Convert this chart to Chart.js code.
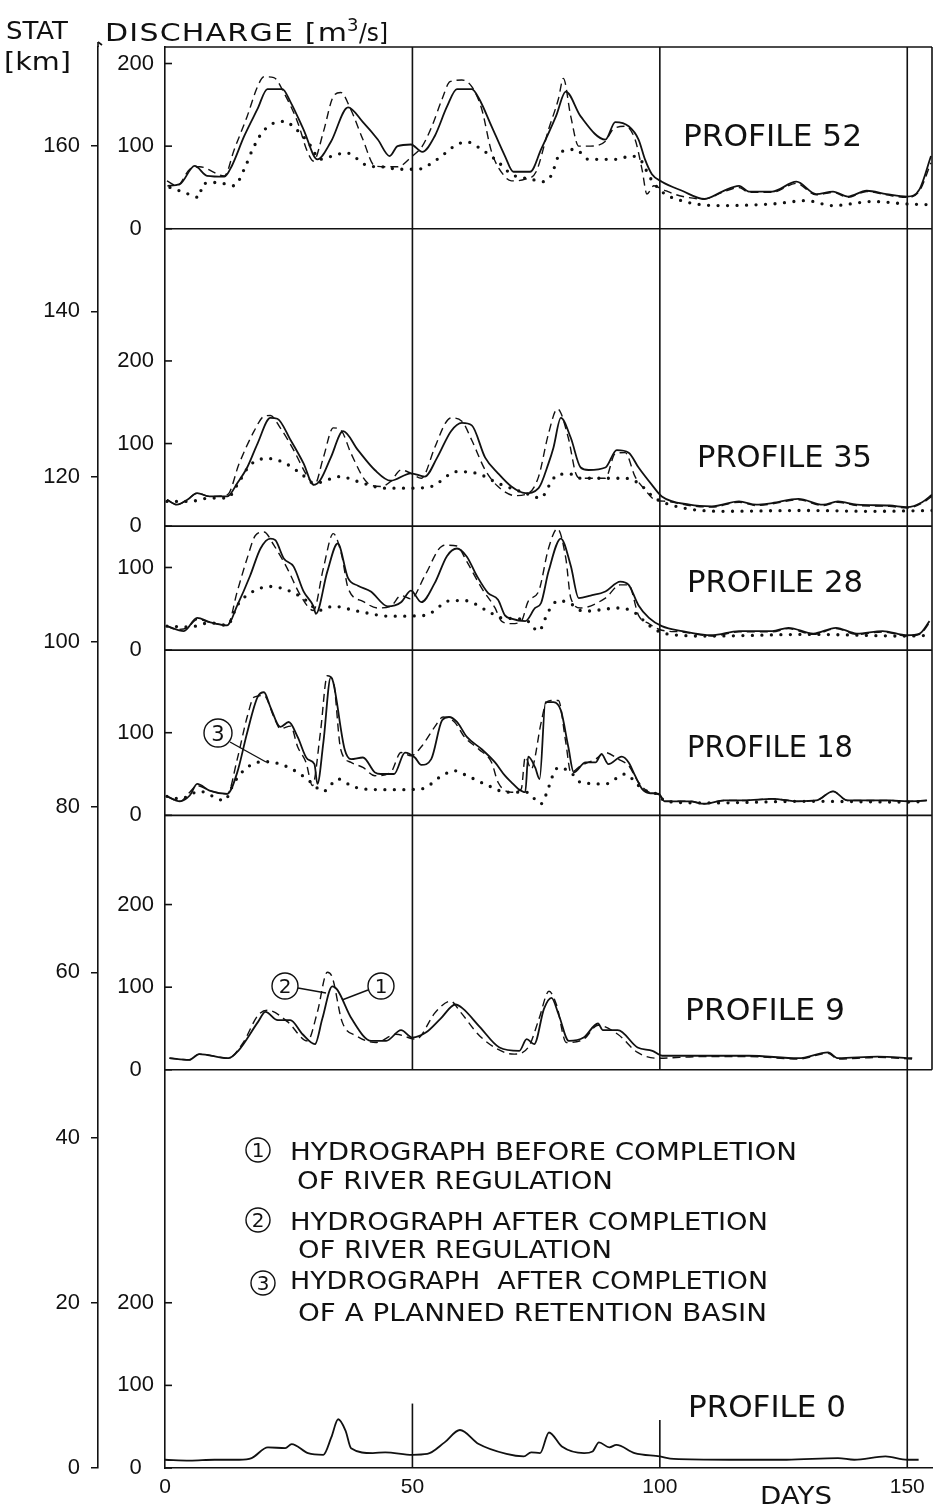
<!DOCTYPE html>
<html><head><meta charset="utf-8">
<script src="https://cdn.jsdelivr.net/npm/chart.js@4.4.1/dist/chart.umd.min.js"></script>
<style>html,body{margin:0;padding:0;background:#fff;}canvas{display:block;}</style>
</head><body>
<canvas id="c" width="938" height="1508"></canvas>
<script>
// ---------- DATA ----------
const dayTicks = [0, 50, 100, 150];
const statTicks = [0, 20, 40, 60, 80, 100, 120, 140, 160];
const profileNames = ['PROFILE 52', 'PROFILE 35', 'PROFILE 28', 'PROFILE 18', 'PROFILE 9', 'PROFILE 0'];
const profileBaseKm = [150, 114, 99, 79, 48.2, 0];
const dischargeTickValues = [[0, 100, 200], [0, 100, 200], [0, 100], [0, 100], [0, 100, 200], [0, 100, 200]];
const legendLabels = ['HYDROGRAPH BEFORE COMPLETION', 'OF RIVER REGULATION', 'HYDROGRAPH AFTER COMPLETION', 'OF RIVER REGULATION', 'HYDROGRAPH  AFTER COMPLETION', 'OF A PLANNED RETENTION BASIN'];

// [day, discharge m3/s]
const p52Solid = [[0.5,52],[3,54],[6,76],[8.5,64],[12,63],[13.5,76],[16,112],[18.7,145],[20.7,169],[23.7,169],[25.4,153],[28,120],[30.8,84],[33.5,105],[37,147],[40,129],[43,108],[45.4,88],[47,100],[49.7,102],[52,93],[54.5,112],[57,148],[59,169],[62,169],[63.5,157],[66,124],[68.7,88],[70.4,69],[73.8,69],[76,96],[79,136],[81,166],[84,136],[89,108],[91,129],[93.7,124],[95.7,108],[97,84],[98.4,66],[100.4,57],[104.5,46],[109,36],[112.6,45],[116,52],[118,45],[122.7,45],[127.6,57],[131.6,42],[135,45],[138,39],[141.8,46],[145.8,42],[150,39],[152.5,48],[154.8,88]];
const p52Dashed = [[0.4,58],[2.4,52],[5,72],[7,75],[12,64],[14,96],[16.6,136],[18.7,172],[20,184],[22,183],[24,165],[26.8,129],[28.8,93],[30,82],[32,117],[34,160],[35.5,165],[37.5,145],[40,108],[42.4,76],[45,75],[47,75],[50,88],[52,100],[54,125],[56,157],[57.6,178],[60,180],[62,172],[64,145],[66,93],[68.7,63],[70,58],[72.8,60],[75,69],[77.5,120],[79.5,157],[80.5,182],[82,136],[83.6,100],[86,100],[89,106],[90.5,120],[93,124],[95,108],[96.4,72],[97.4,42],[98.8,52],[100.4,48],[104,40],[109,36],[112.6,44],[116,50],[118,44],[122.7,44],[127.6,55],[131.6,41],[135,44],[138,38],[141.8,45],[145.8,41],[150,38],[152.5,46],[154.8,80]];
const p52Dotted = [[1,50],[3.9,44],[6.9,38],[7.6,54],[10.5,56],[14,52],[16,72],[17.7,96],[19.7,117],[22.5,129],[24.5,130],[25.8,124],[27.6,114],[29.6,99],[31.2,84],[33.8,88],[36.6,92],[39,84],[41,76],[43.8,75],[47.3,72],[51,72],[55,84],[59,102],[61,105],[64,96],[67.3,81],[70,66],[74,60],[76.5,57],[78,64],[80,93],[83,96],[85.6,84],[91,84],[94.3,88],[96.4,81],[97.8,64],[100.4,45],[105,33],[112,28],[122.7,30],[129.6,34],[135,28],[143,33],[150,30],[155,29]];

const p35Solid = [[0.4,32],[2.4,26],[4.5,32],[6.5,40],[9,36],[12.6,36],[14.6,52],[16.6,71],[18.7,100],[21.3,131],[22.7,130],[25.4,104],[28,76],[30,50],[31.4,56],[33.5,83],[36,115],[39,92],[42.4,68],[45.6,55],[49.7,64],[52.5,60],[55,83],[57.8,115],[60,125],[62,122],[64.7,83],[67.3,64],[70,48],[72.8,40],[75.5,46],[77.5,76],[78.5,95],[80,131],[82,107],[84,71],[85.6,68],[89,71],[91.3,92],[93.7,89],[95.7,71],[98.4,50],[100.4,36],[106,26],[110.5,24],[116,30],[119.5,26],[122.7,28],[128,33],[133,26],[136,30],[139.8,26],[146.4,25],[150,23],[153,29],[155,38]];
const p35Dashed = [[0.4,32],[2.4,26],[4.5,32],[6.5,40],[9,36],[12.6,38],[15,76],[18,115],[20,133],[21.3,134],[23.3,119],[26,92],[28.8,60],[30.2,50],[32,83],[34,119],[35.7,115],[37.6,88],[41,52],[43.6,48],[45.6,54],[47.7,68],[49.7,64],[51.8,58],[54.5,95],[56.6,124],[57.8,131],[60,127],[62,104],[64.7,68],[67.3,48],[70.8,37],[73.5,40],[75.5,60],[77.5,112],[79.3,142],[81.5,107],[83,64],[84,58],[89,58],[91,88],[93,89],[95,60],[97,44],[99,32],[101.5,30],[106,25],[110.5,23],[116,29],[119.5,25],[122.7,27],[128,32],[133,25],[136,29],[139.8,25],[146.4,24],[150,22],[153,28],[155,36]];
const p35Dotted = [[0.4,30],[5,30],[9,34],[12.6,34],[14.6,50],[17.2,74],[20.7,82],[24,77],[27.4,64],[30.2,52],[35.5,60],[39,54],[44.4,46],[49.7,46],[53.8,48],[59,66],[63,64],[67.3,52],[72.8,40],[76,34],[77.5,48],[79.5,63],[82,63],[84,58],[93,58],[95.7,52],[99,34],[104,23],[112.6,18],[129,19],[143,18],[155,19]];

const p28Solid = [[0.4,29],[3.8,23],[6.5,39],[9,34],[12.6,30],[14.6,54],[17.2,90],[19.3,123],[21.3,135],[22.3,133],[24,111],[26,101],[28,71],[30,53],[30.5,44],[32.8,95],[34.9,129],[37,87],[39,78],[41.6,71],[45,53],[47.7,58],[49.7,72],[51.8,58],[54.5,81],[57,114],[59,123],[61,113],[63,90],[65.3,69],[67.3,61],[68.7,42],[70,38],[72.8,35],[74.8,51],[76,57],[77.5,95],[80,135],[82,102],[83.6,63],[86,66],[89,71],[92,83],[93.7,79],[95.7,54],[97.8,39],[100.4,29],[104.5,23],[110.5,18],[116,23],[122.7,23],[126,27],[131,20],[135.6,27],[139.8,20],[145,23],[150,18],[152.5,20],[154.5,35]];
const p28Dashed = [[0.4,29],[2.4,25],[4.5,27],[6.5,37],[9,34],[12.6,30],[14.6,71],[16.6,111],[18.3,139],[20,143],[22,127],[24.7,99],[27.4,66],[30,48],[32,99],[34,141],[35.7,115],[37,75],[40,59],[43,51],[45.6,53],[47.7,66],[49.7,62],[52.5,90],[56,126],[57,127],[59,126],[61,107],[64,75],[66.7,51],[68,35],[70,32],[72,35],[73.4,59],[75.5,71],[77.5,123],[79.3,147],[81,111],[82,63],[84,51],[89,63],[92,79],[93.7,79],[95.7,42],[97.8,32],[100.4,24],[104.5,22],[110.5,17],[116,22],[122.7,22],[126,26],[131,19],[135.6,26],[139.8,19],[145,22],[150,17],[152.5,19],[154.5,33]];
const p28Dotted = [[0.4,29],[5,28],[9,33],[12.6,30],[14.6,54],[17.2,69],[21.3,77],[25.4,71],[28.8,59],[31,48],[34,53],[39,47],[45.6,41],[52.5,42],[57.8,60],[60.5,60],[65.3,47],[68,39],[72.8,37],[75.5,23],[77.5,47],[79.5,60],[82,56],[84.5,47],[92,51],[95,45],[97.8,30],[101,20],[110,17],[130,19],[150,17],[155,18]];

const p18Solid = [[0.4,23],[3,17],[5,24],[6.5,38],[9,30],[12.6,26],[14.6,52],[16.6,100],[18.7,143],[20,149],[21.3,131],[23.3,107],[25,113],[26.8,95],[28.8,68],[30.2,62],[30.8,38],[32,88],[33.5,167],[34,161],[36.3,80],[37.6,68],[40,70],[42.4,52],[43.6,50],[46.3,50],[48.5,76],[50.5,70],[51.8,61],[53.8,68],[56,115],[57.4,119],[59,113],[61,95],[64,80],[66.7,64],[68.7,48],[70,40],[71.4,32],[72.8,28],[73.4,71],[74.8,58],[75.7,44],[76.9,137],[78.5,137],[80,127],[81.5,83],[82.6,52],[85,64],[87,64],[88.2,74],[89.6,62],[92.3,71],[93.7,64],[95,48],[96.4,32],[97.8,27],[99.8,26],[101,17],[106,17],[109,14],[113,18],[117,18],[122.7,20],[128,17],[131.6,18],[135,29],[137.9,18],[142,18],[146.6,18],[150,17],[154,18]];
const p18Dashed = [[0.4,23],[3,17],[5,28],[6.5,36],[9,30],[12.6,26],[14.6,68],[16.6,119],[18,143],[20,145],[22,119],[23.3,105],[25.4,108],[26.8,83],[28.5,64],[29.8,36],[31.4,100],[32.8,169],[34,163],[35.5,80],[37.6,64],[40,58],[42.4,48],[45.6,52],[47.7,76],[49.7,72],[51.8,83],[54.5,107],[56.2,119],[58.5,113],[60.5,95],[63.4,80],[66,64],[67.3,40],[70,28],[72,32],[72.8,71],[74,56],[76,112],[77,136],[78,139],[79.5,139],[81,88],[82,52],[84,60],[87,68],[89,76],[91.6,68],[93.7,60],[95.7,40],[97.8,28],[99.8,25],[101,17],[106,17],[109,14],[113,18],[117,18],[122.7,20],[128,17],[131.6,18],[135,29],[137.9,18],[142,18],[146.6,18],[150,17],[154,18]];
const p18Dotted = [[0.4,23],[3,20],[7,29],[12,18],[14,40],[16.6,58],[20,65],[23.3,62],[26.8,52],[29.5,40],[32,29],[35,44],[37.6,36],[40,32],[45.6,31],[51.8,32],[56,48],[58.5,54],[61,48],[65.3,36],[69,28],[73,28],[76,14],[77,25],[78.5,50],[79.5,58],[82,52],[84,40],[89,38],[93,50],[95.7,36],[97.8,28],[99.8,25],[101,17],[110,15],[130,17],[150,16],[154,17]];

const p9Solid = [[0.9,14],[4.9,12],[6.9,19],[12.8,14],[14.8,23],[18.8,58],[20.3,70],[22.8,60],[25.3,60],[27.8,43],[30.3,31],[31.8,62],[33.8,101],[34.8,97],[37.7,62],[41.7,35],[44.7,35],[47.7,48],[50,39],[52.7,45],[55.7,62],[58.7,79],[60.2,74],[63.6,52],[67.6,27],[71.6,23],[73.1,37],[74.6,31],[76.6,74],[78.1,87],[79.6,66],[81.6,35],[84.6,39],[87.5,56],[88.5,48],[91.5,48],[95.5,27],[98.5,23],[100.5,17],[108.5,17],[118,17],[128,14],[134,21],[136,14],[144,16],[151,14]];
const p9Dashed = [[0.9,14],[4.9,12],[6.9,19],[12.8,14],[15.8,33],[18.8,66],[20.8,72],[24.8,58],[28.8,35],[30.8,70],[32.8,118],[33.8,112],[35.8,58],[38.7,41],[42.7,33],[46.7,43],[50.7,37],[54.7,70],[57.7,83],[59.7,70],[63.6,41],[68.6,21],[70.6,19],[73.6,29],[75.6,62],[77.6,95],[79.1,79],[81.1,33],[84.6,37],[87.5,54],[91.5,43],[95.5,21],[99.5,14],[108.5,16],[118,16],[128,13],[134,20],[136,13],[144,15],[151,13]];

const p0Solid = [[0,10],[5,9],[10,10],[15,10],[17.5,12],[20.8,25],[24.3,24],[25.6,29],[28.9,18],[32,16],[33.6,37],[35,59],[36.5,45],[37.6,24],[42,18],[44.5,19],[50,16],[53,17],[56.5,31],[59.6,46],[63.4,29],[69,17],[72.5,14],[74,19],[75.8,18],[77.6,43],[80.2,26],[84.7,18],[86.4,20],[87.7,31],[89.8,25],[91.2,28],[94.9,18],[100,14],[102.8,11],[114,10],[125.6,10],[136,12],[139.3,10],[145.6,14],[150,10],[152.3,10]];

// ---------- BUILD ----------
const profiles = [
  {base: profileBaseKm[0], dotted: p52Dotted, dashed: p52Dashed, solid: p52Solid},
  {base: profileBaseKm[1], dotted: p35Dotted, dashed: p35Dashed, solid: p35Solid},
  {base: profileBaseKm[2], dotted: p28Dotted, dashed: p28Dashed, solid: p28Solid},
  {base: profileBaseKm[3], dotted: p18Dotted, dashed: p18Dashed, solid: p18Solid},
  {base: profileBaseKm[4], dotted: null, dashed: p9Dashed, solid: p9Solid},
  {base: profileBaseKm[5], dotted: null, dashed: null, solid: p0Solid}
];

function makeDataset(points, base, style) {
  const ds = {
    data: points.map(p => ({x: p[0], y: base + p[1] / 10})),
    borderColor: '#111', backgroundColor: '#111', pointRadius: 0, fill: false,
    cubicInterpolationMode: 'monotone', xAxisID: 'x', yAxisID: 'y'
  };
  if (style === 'solid') { ds.borderWidth = 1.8; }
  else if (style === 'dashed') { ds.borderWidth = 1.4; ds.borderDash = [8, 5]; }
  else { ds.borderWidth = 3.3; ds.borderDash = [0, 9.5]; ds.borderCapStyle = 'round'; }
  return ds;
}

const datasets = [];
profiles.forEach(p => {
  if (p.dotted) datasets.push(makeDataset(p.dotted, p.base, 'dotted'));
  if (p.dashed) datasets.push(makeDataset(p.dashed, p.base, 'dashed'));
  datasets.push(makeDataset(p.solid, p.base, 'solid'));
});

const dischargeTickKm = [];
const dischargeTickLabels = [];
profileBaseKm.forEach((b, i) => {
  dischargeTickValues[i].forEach(q => { dischargeTickKm.push(b + q / 10); dischargeTickLabels.push(String(q)); });
});

const FONT = '"Liberation Sans", Arial, sans-serif';
const LETTER = '"DejaVu Sans", "Liberation Sans", sans-serif';
Chart.defaults.font.family = FONT;
Chart.defaults.color = '#111';

// draws text so that it spans the given width: a mild horizontal stretch plus letter spacing
function fitText(ctx, txt, x, cy, size, width) {
  ctx.font = size + 'px ' + LETTER;
  ctx.letterSpacing = '0px';
  ctx.textAlign = 'left'; ctx.textBaseline = 'alphabetic';
  const n = Array.from(txt).length;
  const w0 = ctx.measureText(txt).width;
  let sx = 1, sp = 0;
  if (width) {
    sx = Math.min(Math.max(width / w0, 0.85), 1.2);
    sp = n > 1 ? (width / sx - w0) / (n - 1) : 0;
  }
  ctx.save();
  ctx.translate(x, cy + size * 0.365);
  ctx.scale(sx, 1);
  ctx.letterSpacing = sp + 'px';
  ctx.fillText(txt, 0, 0);
  ctx.restore();
  ctx.letterSpacing = '0px';
}
function circled(ctx, num, cx, cy, r, size) {
  ctx.beginPath(); ctx.arc(cx, cy, r, 0, Math.PI * 2); ctx.stroke();
  ctx.font = size + 'px ' + LETTER; ctx.textAlign = 'center'; ctx.textBaseline = 'alphabetic';
  ctx.fillText(num, cx, cy + size * 0.365);
}

const decor = {
  id: 'decor',
  afterDraw(chart) {
    const ctx = chart.ctx, a = chart.chartArea, xs = chart.scales.x, ys = chart.scales.y, yq = chart.scales.yQ;
    ctx.save();
    ctx.strokeStyle = '#111'; ctx.fillStyle = '#111'; ctx.lineWidth = 1.6;
    const line = (x1, y1, x2, y2) => { ctx.beginPath(); ctx.moveTo(x1, y1); ctx.lineTo(x2, y2); ctx.stroke(); };
    line(a.left, a.top, a.right, a.top);
    const yLow = ys.getPixelForValue(profileBaseKm[4]);
    profileBaseKm.forEach(b => { if (b > 0) { const y = ys.getPixelForValue(b); line(a.left, y, a.right, y); } });
    line(a.right, a.top, a.right, yLow);
    [50, 100].forEach(d => { const x = xs.getPixelForValue(d); line(x, a.top, x, yLow); });
    const x150 = xs.getPixelForValue(150);
    line(x150, a.top, x150, a.bottom);
    line(xs.getPixelForValue(50), ys.getPixelForValue(7.8), xs.getPixelForValue(50), a.bottom);
    line(xs.getPixelForValue(100), ys.getPixelForValue(5.8), xs.getPixelForValue(100), a.bottom);
    yq.ticks.forEach(t => { const y = yq.getPixelForValue(t.value); line(a.left, y, a.left + 7, y); });
    // small arrow mark on top of STAT axis
    const xStat = ys.right;
    line(xStat, a.top, xStat, a.top - 5);
    line(xStat, a.top - 5, xStat + 4, a.top - 2);

    // headings
    fitText(ctx, 'STAT', 6, 30, 25, 62);
    fitText(ctx, '[km]', 4, 61, 25, 67);
    fitText(ctx, 'DISCHARGE [m', 105, 32, 25, 242);
    fitText(ctx, '3', 347, 24, 18, 0);
    fitText(ctx, '/s]', 359, 32, 25, 29);

    // profile labels
    const labelPos = [[683, 135, 179], [697, 456, 175], [687, 581, 176], [687, 746, 166], [685, 1009, 160], [688, 1406, 158]];
    profileNames.forEach((n, i) => fitText(ctx, n, labelPos[i][0], labelPos[i][1], 30, labelPos[i][2]));

    // legend
    ctx.lineWidth = 1.4;
    const legPos = [[290, 1151, 507], [297, 1180, 316], [290, 1221, 478], [298, 1249, 314], [290, 1280, 478], [298, 1312, 469]];
    legendLabels.forEach((t, i) => fitText(ctx, t, legPos[i][0], legPos[i][1], 25, legPos[i][2]));
    circled(ctx, '1', 258, 1150, 12, 20);
    circled(ctx, '2', 258, 1220, 12, 20);
    circled(ctx, '3', 263, 1283, 12, 20);

    // annotations
    circled(ctx, '3', 218, 733, 14, 21);
    line(230, 742, 266, 762);
    circled(ctx, '2', 285, 986, 13, 20);
    line(298, 988, 326, 993);
    circled(ctx, '1', 381, 986, 13, 20);
    line(368, 990, 342, 1000);

    // x-axis title
    fitText(ctx, 'DAYS', 760, 1495, 25, 72);
    ctx.restore();
  }
};

new Chart(document.getElementById('c'), {
  type: 'line',
  data: {datasets},
  options: {
    responsive: false, animation: false, devicePixelRatio: 1,
    layout: {padding: {top: 47, right: 6, left: 0, bottom: 0}},
    plugins: {legend: {display: false}, tooltip: {enabled: false}},
    scales: {
      x: {
        type: 'linear', position: 'bottom', min: 0, max: 155,
        afterBuildTicks: s => { s.ticks = dayTicks.map(v => ({value: v})); },
        afterFit: s => { s.height = 40; s.paddingLeft = 0; s.paddingRight = 0; },
        grid: {display: false, drawTicks: false},
        border: {display: true, color: '#111', width: 1.6},
        ticks: {padding: 7, font: {size: 21}, color: '#111', maxRotation: 0, autoSkip: false, callback: v => String(v)}
      },
      y: {
        type: 'linear', position: 'left', min: 0, max: 172, weight: 1,
        afterBuildTicks: s => { s.ticks = statTicks.map(v => ({value: v})); },
        afterFit: s => { s.width = 98; s.paddingTop = 0; s.paddingBottom = 0; },
        grid: {display: true, drawOnChartArea: false, drawTicks: true, tickLength: 7, color: '#111', lineWidth: 1.5},
        border: {display: true, color: '#111', width: 1.6},
        ticks: {padding: 11, font: {size: 22}, color: '#111', autoSkip: false, callback: v => String(v)}
      },
      yQ: {
        type: 'linear', position: 'left', min: 0, max: 172, weight: 0,
        afterBuildTicks: s => { s.ticks = dischargeTickKm.map(v => ({value: v})); },
        afterFit: s => { s.width = 67; s.paddingTop = 0; s.paddingBottom = 0; },
        grid: {display: false, drawTicks: false},
        border: {display: true, color: '#111', width: 1.6},
        ticks: {padding: 11, crossAlign: 'center', font: {size: 22}, color: '#111', autoSkip: false, callback: (v, i) => dischargeTickLabels[i]}
      }
    }
  },
  plugins: [decor]
});
</script>
</body></html>
